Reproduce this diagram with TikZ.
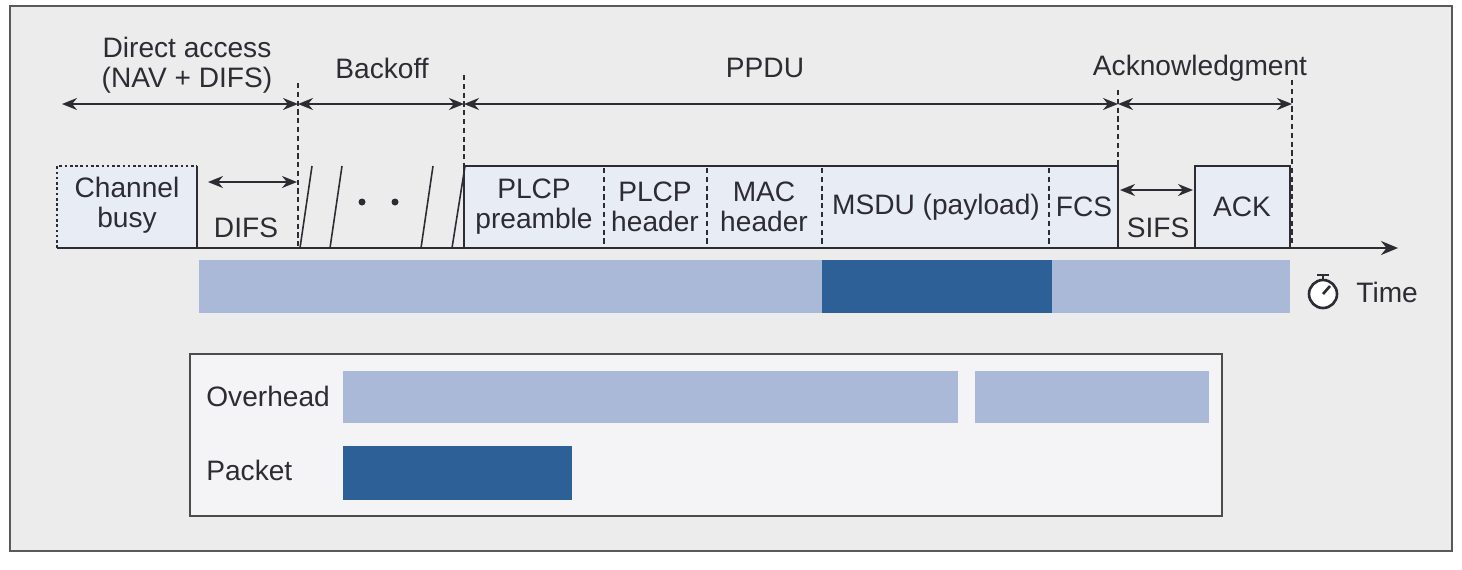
\documentclass[tikz,border=0pt]{standalone}
\usepackage{fontspec}
\setmainfont{Liberation Sans}
\usetikzlibrary{arrows.meta}
\definecolor{framegray}{RGB}{236,236,237}
\definecolor{boxblue}{RGB}{231,236,245}
\definecolor{lightbar}{RGB}{169,185,215}
\definecolor{darkbar}{RGB}{45,96,150}
\definecolor{textgray}{RGB}{44,44,50}
\definecolor{legendbg}{RGB}{244,244,247}

\tikzset{
 lbl/.style={text=textgray, font=\fontsize{16}{17}\selectfont, align=center, inner sep=0pt},
 span/.style={{Stealth[length=3mm,width=2.4mm]}-{Stealth[length=3mm,width=2.4mm]}, line width=1.1pt, draw=textgray},
 tick/.style={line width=1pt, dash pattern=on 3pt off 2pt, draw=textgray},
 field/.style={line width=1.1pt, draw=textgray, fill=boxblue},
 lightbox/.style={fill=lightbar},
 darkbox/.style={fill=darkbar}
}

\begin{document}
\begin{tikzpicture}[x=0.02cm, y=-0.02cm]
 \useasboundingbox (0,0) rectangle (1462,569);
 \draw[gray!70!black, line width=1.5pt, fill=framegray] (10,6) rectangle (1452,551);

 % phase borders
 \coordinate (t0) at (62,104);
 \coordinate (t1) at (298,104);
 \coordinate (t2) at (464,104);
 \coordinate (t3) at (1118,104);
 \coordinate (t4) at (1292,104);
 \coordinate (axl) at (57,248);
 \coordinate (axr) at (1398,248);

 % fields on the time line
 \fill[boxblue] (57,166) rectangle (197,248);
 \draw[tick, dash pattern=on 1.5pt off 1.5pt] (57,248) -- (57,166) -- (197,166);
 \draw[line width=1.1pt, textgray] (197,166) -- (197,248);
 \draw[field] (464,248) -- (464,166) -- (1118,166) -- (1118,248);
 \draw[field] (1195,248) -- (1195,166) -- (1290,166) -- (1290,248);
 \foreach \x in {604, 707, 822, 1049}
  \draw[tick] (\x,168) -- (\x,248);
 \draw[tick] (298,83) -- (298,248);
 \draw[tick] (464,75) -- (464,166);
 \draw[tick] (1118,90) -- (1118,166);
 \draw[tick] (1292,80) -- (1292,248);

 % backoff slots
 \draw[line width=0.9pt, textgray] (312,166) -- (300,248);
 \draw[line width=0.9pt, textgray] (342,166) -- (330,248);
 \draw[line width=0.9pt, textgray] (433,166) -- (421,248);
 \draw[line width=0.9pt, textgray] (465,166) -- (452,248);
 \fill[textgray] (362,202) circle (3.5) (395,202) circle (3.5);

 \draw[line width=1.3pt, textgray, -{Stealth[length=3.4mm,width=2.8mm]}] (axl) -- (axr);

 % spans
 \draw[span] (t0) -- (t1);
 \draw[span] (t1) -- (t2);
 \draw[span] (t2) -- (t3);
 \draw[span] (t3) -- (t4);
 \coordinate (d0) at (208,182);
 \coordinate (d1) at (297,182);
 \draw[span] (d0) -- (d1);
 \coordinate (s0) at (1120,190);
 \coordinate (s1) at (1193,190);
 \draw[span] (s0) -- (s1);

 \node[lbl] (direct) at (187,65) {Direct access\\(NAV + DIFS)};
 \node[lbl] (backoff) at (382,68) {Backoff};
 \node[lbl] (ppdu) at (765,68) {PPDU};
 \node[lbl] (ackn) at (1200,68) {Acknowledgment};
 \node[lbl] (busy) at (127,205) {Channel\\busy};
 \node[lbl] (difs) at (246,228) {DIFS};
 \node[lbl] (preamble) at (534,207) {PLCP\\preamble};
 \node[lbl] (plcph) at (655,207) {PLCP\\header};
 \node[lbl] (mach) at (764,207) {MAC\\header};
 \node[lbl] (msdu) at (936,207) {MSDU (payload)};
 \node[lbl] (fcs) at (1084,207) {FCS};
 \node[lbl] (sifs) at (1158,228) {SIFS};
 \node[lbl] (ack) at (1242,207) {ACK};

 % overhead and payload in time
 \fill[lightbox] (199,260) rectangle (822,313);
 \fill[darkbox] (822,260) rectangle (1052,313);
 \fill[lightbox] (1052,260) rectangle (1290,313);

 % stopwatch
 \draw[line width=1.5pt, textgray, fill=white] (1323,294) circle (14);
 \draw[line width=1.5pt, textgray] (1323,280) -- (1323,276) (1317,275) -- (1329,275);
 \draw[line width=1.5pt, textgray] (1323,294) -- (1330,286);
 \node[lbl, anchor=west] (time) at (1356,292) {Time};

 % legend
 \draw[line width=1.2pt, gray!60!black, fill=legendbg] (190,354) rectangle (1222,516);
 \node[lbl, anchor=west] (overhead) at (206,396) {Overhead};
 \node[lbl, anchor=west] (packet) at (206,470) {Packet};
 \fill[lightbox] (343,371) rectangle (958,423);
 \fill[lightbox] (975,371) rectangle (1209,423);
 \fill[darkbox] (343,446) rectangle (572,500);
\end{tikzpicture}
\end{document}
